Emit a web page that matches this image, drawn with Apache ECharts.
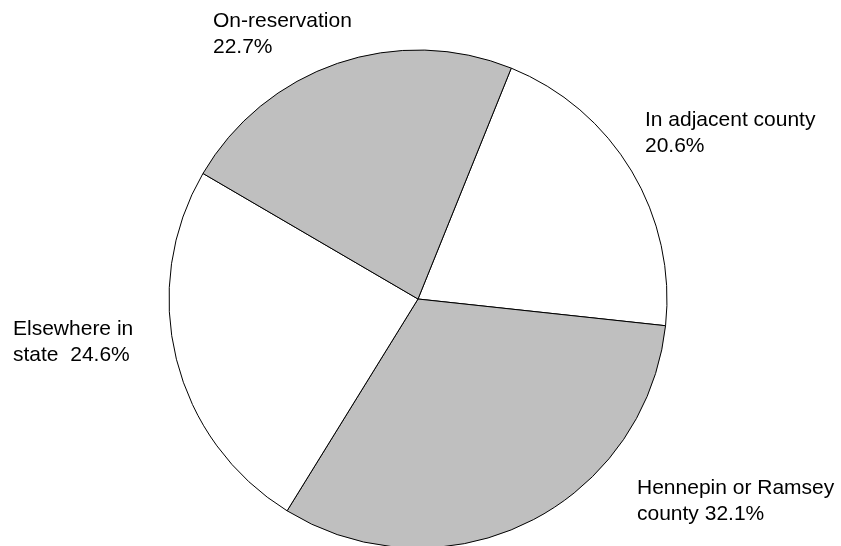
<!DOCTYPE html>
<html>
<head>
<meta charset="utf-8">
<script src="https://cdn.jsdelivr.net/npm/echarts@6/dist/echarts.min.js"></script>
<style>
html,body{margin:0;padding:0;background:#fff;}
#chart{width:841px;height:546px;}
</style>
</head>
<body>
<div id="chart"></div>
<script>
// Data (clockwise from the top-right boundary)
const categories = ['In adjacent county', 'Hennepin or Ramsey county', 'Elsewhere in state', 'On-reservation'];
const values = [20.6, 32.1, 24.6, 22.7];
const labelTexts = ['In adjacent county\n20.6%', 'Hennepin or Ramsey\ncounty 32.1%', 'Elsewhere in\nstate  24.6%', 'On-reservation\n22.7%'];
const sliceColors = ['#ffffff', '#bfbfbf', '#ffffff', '#bfbfbf'];

// Label anchor positions (layout only)
const labelPos = [
  {x: 645, y: 107},
  {x: 637, y: 475},
  {x: 13, y: 316},
  {x: 213, y: 8}
];

const chart = echarts.init(document.getElementById('chart'), null, {renderer: 'canvas'});
chart.setOption({
  backgroundColor: '#ffffff',
  animation: false,
  series: [{
    type: 'pie',
    center: [418, 299],
    radius: [0, 249],
    startAngle: 68,
    clockwise: true,
    avoidLabelOverlap: false,
    emphasis: {disabled: true},
    itemStyle: {borderColor: '#000', borderWidth: 1},
    label: {
      show: true,
      position: 'outside',
      color: '#000',
      fontFamily: 'Liberation Sans, Arial, sans-serif',
      fontSize: 21,
      lineHeight: 26,
      align: 'left',
      formatter: p => labelTexts[p.dataIndex]
    },
    labelLine: {show: false},
    labelLayout: p => ({x: labelPos[p.dataIndex].x, y: labelPos[p.dataIndex].y, align: 'left', verticalAlign: 'top'}),
    data: categories.map((c, i) => ({name: c, value: values[i], itemStyle: {color: sliceColors[i]}}))
  }]
});
</script>
</body>
</html>
